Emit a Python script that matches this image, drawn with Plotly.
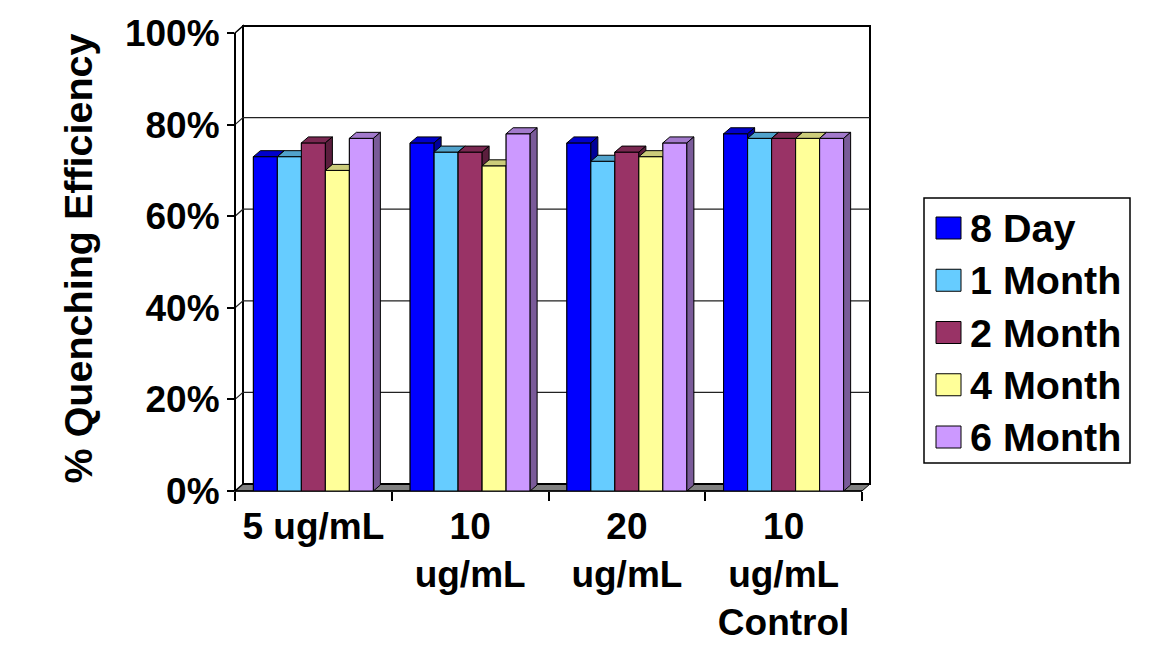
import plotly.graph_objects as go

# ---------------- data ----------------
CATEGORIES = ["5 ug/mL", "10<br>ug/mL", "20<br>ug/mL", "10<br>ug/mL<br>Control"]
SERIES = ["8 Day", "1 Month", "2 Month", "4 Month", "6 Month"]
day8 = [73, 76, 76, 78]
month1 = [73, 74, 72, 77]
month2 = [76, 74, 74, 77]
month4 = [70, 71, 73, 77]
month6 = [77, 78, 76, 77]
VALUES = [day8, month1, month2, month4, month6]
Y_TICKS = [0, 20, 40, 60, 80, 100]
Y_TICK_TEXT = ["0%", "20%", "40%", "60%", "80%", "100%"]

# ---------------- style ----------------
COLORS = ["#0000FF", "#66CCFF", "#993366", "#FFFF99", "#CC99FF"]
FONT = "Liberation Sans, Arial, sans-serif"
FS = 37
FS_BIG = 39.5
W, H = 1176, 645
ML, MR, MT, MB = 235, 306, 26, 154
PW, PH = W - ML - MR, H - MT - MB
WALL_DX_PX, WALL_DY_PX = 8, 7
BAR_DX_PX, BAR_DY_PX = 7, 6
BAR_PX = 24

n_cat = len(CATEGORIES)
x_unit_px = (PW - WALL_DX_PX) / n_cat
y_unit_px = (PH - WALL_DY_PX) / 100.0
DXW = WALL_DX_PX / x_unit_px
DYW = WALL_DY_PX / y_unit_px
BDX = BAR_DX_PX / x_unit_px
BDY = BAR_DY_PX / y_unit_px
BAR_W = BAR_PX / x_unit_px
GROUP_W = BAR_W * len(SERIES)
XR = [-0.5, n_cat - 0.5 + DXW]
YR = [0, 100 + DYW]


def shade(hexcol, f):
    r, g, b = int(hexcol[1:3], 16), int(hexcol[3:5], 16), int(hexcol[5:7], 16)
    return "rgb(%d,%d,%d)" % (r * f, g * f, b * f)


def PX(x):
    return (x - XR[0]) / (XR[1] - XR[0])


def PY(y):
    return (y - YR[0]) / (YR[1] - YR[0])


def fx(px):
    return (px - ML) / PW


def fy(py):
    return (H - MB - py) / PH


fig = go.Figure()

# plain bar traces (front faces)
for k, (name, vals) in enumerate(zip(SERIES, VALUES)):
    fig.add_trace(go.Bar(
        x=list(range(n_cat)), y=vals, name=name, width=BAR_W,
        offset=-GROUP_W / 2 + k * BAR_W,
        marker=dict(color=COLORS[k], line=dict(color="black", width=1)),
        showlegend=False, hoverinfo="skip"))

# 3-D faces, painted bar by bar from left to right
for k, vals in enumerate(VALUES):
    fr_x, fr_y, tp_x, tp_y, sd_x, sd_y = [], [], [], [], [], []
    for j, v in enumerate(vals):
        x0 = j - GROUP_W / 2 + k * BAR_W
        x1 = x0 + BAR_W
        fr_x += [x0, x1, x1, x0, x0, None]
        fr_y += [0, 0, v, v, 0, None]
        tp_x += [x0, x1, x1 + BDX, x0 + BDX, x0, None]
        tp_y += [v, v, v + BDY, v + BDY, v, None]
        sd_x += [x1, x1 + BDX, x1 + BDX, x1, x1, None]
        sd_y += [0, BDY, v + BDY, v, 0, None]
    for xs, ys, col in ((fr_x, fr_y, COLORS[k]),
                        (tp_x, tp_y, shade(COLORS[k], 0.8)),
                        (sd_x, sd_y, shade(COLORS[k], 0.6))):
        fig.add_trace(go.Scatter(x=xs, y=ys, mode="lines", fill="toself",
                                 fillcolor=col, line=dict(color="black", width=1),
                                 showlegend=False, hoverinfo="skip"))

shapes = []
x_left, x_right = -0.5, n_cat - 0.5
# floor
shapes.append(dict(type="path", xref="paper", yref="paper", layer="below",
                   path="M%f,%f L%f,%f L%f,%f L%f,%f Z" % (
                       PX(x_left), PY(0), PX(x_right), PY(0),
                       PX(x_right + DXW), PY(DYW), PX(x_left + DXW), PY(DYW)),
                   fillcolor="#808080", line=dict(color="black", width=1)))
# left side wall
shapes.append(dict(type="path", xref="paper", yref="paper", layer="below",
                   path="M%f,%f L%f,%f L%f,%f L%f,%f Z" % (
                       PX(x_left), PY(0), PX(x_left + DXW), PY(DYW),
                       PX(x_left + DXW), PY(100 + DYW), PX(x_left), PY(100)),
                   fillcolor="white", line=dict(color="black", width=1.5)))
# back wall
shapes.append(dict(type="rect", xref="paper", yref="paper", layer="below",
                   x0=PX(x_left + DXW), y0=PY(DYW), x1=PX(x_right + DXW), y1=PY(100 + DYW),
                   line=dict(color="black", width=2)))
# gridlines
for v in Y_TICKS[1:-1]:
    shapes.append(dict(type="path", xref="paper", yref="paper", layer="below",
                       path="M%f,%f L%f,%f L%f,%f" % (
                           PX(x_left), PY(v), PX(x_left + DXW), PY(v + DYW),
                           PX(x_right + DXW), PY(v + DYW)),
                       line=dict(color="#222222", width=1.2)))
# front axis lines
shapes.append(dict(type="line", xref="paper", yref="paper", layer="below",
                   x0=PX(x_left), y0=PY(0), x1=PX(x_left), y1=PY(100),
                   line=dict(color="black", width=2)))
shapes.append(dict(type="line", xref="paper", yref="paper", layer="below",
                   x0=PX(x_left), y0=PY(0), x1=PX(x_right), y1=PY(0),
                   line=dict(color="black", width=1.5)))

# manual legend
LEG_BOX = (924, 198, 1130, 463)
LEG_Y0, LEG_STEP = 228, 52.25
shapes.append(dict(type="rect", xref="paper", yref="paper",
                   x0=fx(LEG_BOX[0]), y0=fy(LEG_BOX[1]), x1=fx(LEG_BOX[2]), y1=fy(LEG_BOX[3]),
                   line=dict(color="black", width=1.5), fillcolor="white", layer="above"))
annotations = []
for i, name in enumerate(SERIES):
    cy = LEG_Y0 + i * LEG_STEP
    shapes.append(dict(type="rect", xref="paper", yref="paper",
                       x0=fx(936), y0=fy(cy + 11), x1=fx(961), y1=fy(cy - 11),
                       fillcolor=COLORS[i], line=dict(color="black", width=1), layer="above"))
    annotations.append(dict(xref="paper", yref="paper", x=fx(968), y=fy(cy),
                            xanchor="left", yanchor="middle", text=name, showarrow=False,
                            font=dict(family=FONT, size=FS_BIG, color="black", weight="bold")))

fig.update_layout(
    width=W, height=H, autosize=False,
    margin=dict(l=ML, r=MR, t=MT, b=MB, autoexpand=False),
    paper_bgcolor="white", plot_bgcolor="rgba(0,0,0,0)",
    barmode="overlay", showlegend=False,
    shapes=shapes, annotations=annotations,
    font=dict(family=FONT, size=FS, color="black", weight="bold"),
    xaxis=dict(range=XR, tickmode="array", tickvals=list(range(n_cat)), ticktext=CATEGORIES,
               ticks="", showgrid=False, zeroline=False, showline=False,
               ticklabelstandoff=10, automargin=False,
               tickfont=dict(family=FONT, size=FS, color="black", weight="bold"),
               minor=dict(tickmode="array", tickvals=[c - 0.5 for c in range(n_cat + 1)],
                          ticks="outside", ticklen=9, tickwidth=1.5, tickcolor="black",
                          showgrid=False),
               fixedrange=True),
    yaxis=dict(range=YR, tickmode="array", tickvals=Y_TICKS, ticktext=Y_TICK_TEXT,
               ticks="outside", ticklen=7, tickwidth=1.5, tickcolor="black",
               showgrid=False, zeroline=False, showline=False, automargin=False,
               tickfont=dict(family=FONT, size=FS, color="black", weight="bold"),
               title=dict(text="% Quenching Efficiency", standoff=20,
                          font=dict(family=FONT, size=FS_BIG, color="black", weight="bold")),
               fixedrange=True),
)

fig.write_html("out.html")
